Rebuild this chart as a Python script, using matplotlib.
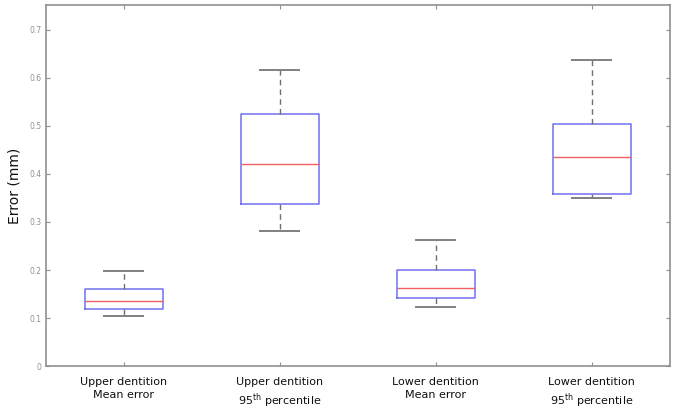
# boxplot of dentition errors, matlab style
import numpy as np
import matplotlib
matplotlib.use("Agg")
import matplotlib.pyplot as plt

labels = [
    "Upper dentition\nMean error",
    "Upper dentition\n95$^{\\mathrm{th}}$ percentile",
    "Lower dentition\nMean error",
    "Lower dentition\n95$^{\\mathrm{th}}$ percentile",
]
whislo = [0.104, 0.281, 0.123, 0.349]
q1 = [0.118, 0.337, 0.141, 0.359]
med = [0.135, 0.420, 0.162, 0.436]
q3 = [0.160, 0.524, 0.200, 0.503]
whishi = [0.197, 0.617, 0.262, 0.638]
yticks = [0, 0.1, 0.2, 0.3, 0.4, 0.5, 0.6, 0.7]

stats = []
for i in range(len(labels)):
    stats.append(dict(whislo=whislo[i], q1=q1[i], med=med[i], q3=q3[i],
                      whishi=whishi[i], fliers=[], label=labels[i]))

fig = plt.figure(figsize=(6.75, 4.09), dpi=100)
ax = fig.add_axes([0.068, 0.105, 0.9245, 0.883])

ax.bxp(stats, widths=0.5, showfliers=False,
       boxprops=dict(color="#7070f0", linewidth=1.1),
       medianprops=dict(color="#f06060", linewidth=1.0),
       whiskerprops=dict(color="#707070", linewidth=1.0, linestyle=(0, (4, 3))),
       capprops=dict(color="#808080", linewidth=1.4))

ax.set_xlim(0.5, 4.5)
ax.set_ylim(0, 0.752)
ax.set_yticks(yticks)
ax.set_yticklabels(["0" if v == 0 else f"{v:g}" for v in yticks])

for s in ax.spines.values():
    s.set_color("#909090")
    s.set_linewidth(1.2)

ax.tick_params(axis="both", direction="in", top=True, right=True,
               length=3, color="#909090")
ax.tick_params(axis="y", labelsize=5.5, labelcolor="#909090", pad=3)
ax.tick_params(axis="x", labelsize=8, labelcolor="#101010", pad=8)
for t in ax.get_xticklabels():
    t.set_linespacing(1.3)

ax.set_ylabel("Error (mm)", fontsize=10, color="#101010", labelpad=6)

plt.savefig("out.png", dpi=100)
